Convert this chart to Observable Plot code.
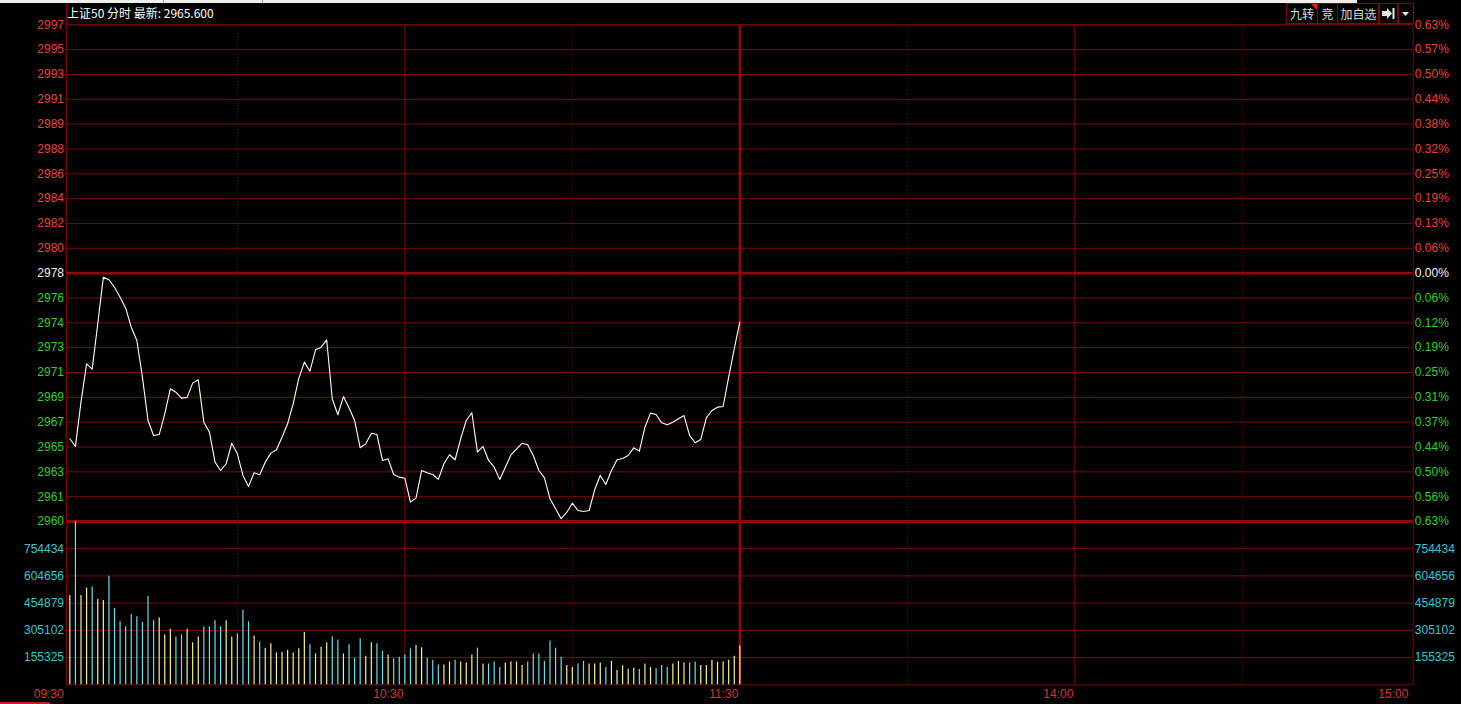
<!DOCTYPE html>
<html>
<head>
<meta charset="utf-8">
<script src="https://cdn.jsdelivr.net/npm/d3@7"></script>
<script src="https://cdn.jsdelivr.net/npm/@observablehq/plot@0.6"></script>
<style>
  html, body { margin: 0; padding: 0; background: #000; }
  #wrap { position: relative; width: 1461px; height: 704px; background: #000; overflow: hidden;
          font-family: 'Liberation Sans', Arial, 'Noto Sans CJK SC', sans-serif; }
  .abs { position: absolute; }
  .btn { position: absolute; top: 3px; height: 19px; border: 1px solid #7a0a0a; box-sizing: content-box;
         color: #dcdcdc; font-size: 12px; line-height: 19px; text-align: center;
         font-family: 'Noto Sans CJK SC', 'Liberation Sans', sans-serif; }
</style>
</head>
<body>
<div id="wrap">
  <div class="abs" style="left:0;top:0;width:1357px;height:3px;background:#efefef"></div>
  <div class="abs" style="left:163px;top:0;width:1px;height:3px;background:#999"></div>
  <div class="abs" style="left:262px;top:0;width:1px;height:3px;background:#999"></div>
  <div class="abs" id="title" style="left:67px;top:5px;color:#fff;font-size:12px;line-height:15px;white-space:nowrap;font-family:'Noto Sans CJK SC','Liberation Sans',sans-serif">上证50 分时 最新: 2965.600</div>
  <div class="abs" style="left:65.5px;top:3px;width:1px;height:22px;background:#800a0a"></div>
  <div class="btn" style="left:1286px;width:30px">九转</div>
  <div class="abs" style="left:1311px;top:4px;width:0;height:0;border-top:6px solid #ff1a1a;border-left:6px solid transparent"></div>
  <div class="btn" style="left:1317px;width:19px">竞</div>
  <div class="btn" style="left:1337px;width:41px">加自选</div>
  <div class="btn" style="left:1378px;width:19px">
    <svg width="19" height="19" style="display:block"><polygon points="3,7 8,7 8,4 13,9.5 8,15 8,12 3,12" fill="#e8e8e8"/><rect x="13.5" y="4" width="2" height="11" fill="#e8e8e8"/></svg>
  </div>
  <div class="btn" style="left:1397px;width:15px">
    <svg width="15" height="19" style="display:block"><polygon points="4,8 11,8 7.5,12" fill="#e8e8e8"/></svg>
  </div>
  <div class="abs" id="price" style="left:0;top:0"></div>
  <div class="abs" id="vol" style="left:0;top:521px"></div>
  <div class="abs" style="left:0;top:701.5px;width:50px;height:2.5px;background:#c02020"></div>
</div>
<script>
// ---------- data ----------
const prevClose = 2978.2;
const priceStep = 1.8698;

const priceLabels = ["2997","2995","2993","2991","2989","2988","2986","2984","2982","2980","2978",
                     "2976","2974","2973","2971","2969","2967","2965","2963","2961","2960"];
const pctLabels = ["0.63%","0.57%","0.50%","0.44%","0.38%","0.32%","0.25%","0.19%","0.13%","0.06%","0.00%",
                   "0.06%","0.12%","0.19%","0.25%","0.31%","0.37%","0.44%","0.50%","0.56%","0.63%"];

const volTickLabels = ["155325","305102","454879","604656","754434"];

const timeLabels = ["09:30","10:30","11:30","14:00","15:00"];
const timeMinutes = [0, 60, 120, 180, 240];
const solidMinutes = [60, 180];
const breakMinute = [120];
const dottedMinutes = [30, 90, 150, 210];

const prices = [
2965.73, 2965.15, 2968.51, 2971.37, 2970.97, 2974.39, 2977.90, 2977.70, 2977.14, 2976.39,
2975.56, 2974.13, 2973.13, 2970.37, 2967.11, 2965.98, 2966.05, 2967.61, 2969.49, 2969.24,
2968.79, 2968.85, 2969.92, 2970.17, 2966.98, 2966.23, 2963.97, 2963.34, 2963.85, 2965.40,
2964.60, 2962.97, 2962.14, 2963.17, 2963.02, 2963.97, 2964.65, 2964.90, 2965.85, 2966.86,
2968.36, 2970.27, 2971.50, 2970.82, 2972.43, 2972.63, 2973.18, 2968.74, 2967.54, 2968.91,
2968.06, 2967.11, 2965.05, 2965.35, 2966.15, 2966.05, 2964.10, 2964.22, 2963.04, 2962.84,
2962.76, 2960.96, 2961.26, 2963.34, 2963.17, 2963.04, 2962.67, 2963.85, 2964.53, 2964.15,
2965.73, 2967.11, 2967.69, 2964.72, 2965.15, 2964.10, 2963.59, 2962.67, 2963.59, 2964.51,
2964.96, 2965.40, 2965.28, 2964.47, 2963.34, 2962.79, 2961.21, 2960.46, 2959.71, 2960.20,
2960.88, 2960.33, 2960.26, 2960.33, 2961.89, 2962.97, 2962.29, 2963.34, 2964.15, 2964.25,
2964.47, 2965.05, 2964.80, 2966.60, 2967.66, 2967.56, 2966.93, 2966.78, 2966.98, 2967.24,
2967.48, 2965.98, 2965.43, 2965.68, 2967.31, 2967.86, 2968.11, 2968.16, 2970.37, 2972.51,
2974.51];

const volumes = [
497600, 904210, 497600, 538300, 543900, 475200, 469600, 603600, 426700, 352400,
324500, 391500, 380300, 348500, 492000, 358000, 373100, 279800, 311600, 268700,
279800, 311600, 236800, 268700, 324500, 324500, 358000, 324500, 358000, 268700,
287100, 413800, 352400, 274200, 240700, 207200, 231300, 181000, 184900, 196100,
181000, 203300, 292700, 225700, 175400, 212800, 236800, 270300, 251900, 175400,
225700, 151400, 259200, 162600, 236800, 231300, 190500, 169800, 147500, 157000,
169800, 203300, 222300, 208900, 151400, 140300, 114000, 114000, 130800, 140300,
130800, 125200, 169800, 207200, 119600, 119600, 130800, 101200, 125200, 130800,
130800, 112300, 130800, 175400, 175400, 134700, 246300, 207200, 157000, 112300,
101200, 119600, 134700, 119600, 119600, 125200, 101200, 134700, 84400, 110700,
91700, 97300, 91700, 119600, 101200, 95600, 112300, 101200, 119600, 134700,
125200, 125200, 130800, 112300, 112300, 140300, 130800, 130800, 140300, 162600,
218400];

const volDir = [
"u","d","u","u","d","u","u","d","d","d",
"d","d","d","d","d","d","u","u","u","d",
"d","u","u","u","d","d","d","d","u","u",
"d","d","d","u","d","u","u","u","u","u",
"u","u","u","d","u","u","u","d","d","u",
"d","d","d","u","u","d","d","u","d","d",
"d","d","u","u","d","d","d","u","u","d",
"u","u","u","d","u","d","d","d","u","u",
"u","u","d","d","d","d","d","d","d","u",
"u","d","d","u","u","u","d","u","u","u",
"u","u","d","u","u","d","d","d","u","u",
"u","d","d","u","u","u","u","u","u","u",
"u"];

// ---------- styling ----------
const GRID = "#7c0909";
const GRID_BRIGHT = "#8e0a0a";
const GRID_DIM = "#6a0a0a";
const RED = "#e8413f";
const GREEN = "#33cc33";
const WHITE = "#f2f2f2";
const CYAN_TXT = "#3dc3cf";
const BAR_UP = "#f2f29e";
const BAR_DOWN = "#72dde6";
const TIME_RED = "#d23a3a";
const FONT = "'Liberation Sans', Arial, sans-serif";

// ---------- derived tables ----------
const ks = d3.range(10, -11, -1);
const levels = ks.map((k, i) => ({
  k, value: prevClose + k * priceStep, label: priceLabels[i], pct: pctLabels[i],
  color: k > 0 ? RED : (k === 0 ? WHITE : GREEN)
}));
const lineData = prices.map((p, i) => ({minute: i, price: p}));
const volTicks = volTickLabels.map(Number);
const volStepV = volTicks[1] - volTicks[0];
const volMin = volTicks[0] - volStepV;
const volMax = volTicks[volTicks.length - 1] + volStepV;
const volData = volumes.map((v, i) => ({minute: i, vol: v, dir: volDir[i]}));
const timeData = timeLabels.map((t, i) => ({label: t, minute: timeMinutes[i]}));

const xScale = {domain: [0, 240], insetLeft: 3.35, insetRight: 3.35, axis: null};
const commonStyle = {background: "transparent", fontFamily: FONT, fontSize: "12px", overflow: "visible"};

// ---------- price panel ----------
const pricePlot = Plot.plot({
  width: 1461, height: 522,
  marginLeft: 66, marginRight: 48.3, marginTop: 24.3, marginBottom: 1,
  x: xScale,
  y: {domain: [prevClose - 10 * priceStep, prevClose + 10 * priceStep], axis: null},
  color: {type: "identity"},
  style: commonStyle,
  marks: [
    Plot.ruleX(dottedMinutes, {stroke: GRID_DIM, strokeDasharray: "1,2"}),
    Plot.ruleY(levels.filter(d => d.k !== 0 && d.k !== -10), {y: "value", stroke: GRID}),
    Plot.ruleX(solidMinutes, {stroke: GRID}),
    Plot.ruleX(breakMinute, {stroke: GRID_BRIGHT, strokeWidth: 2.5}),
    Plot.ruleY(levels.filter(d => d.k === 0 || d.k === -10), {y: "value", stroke: GRID_BRIGHT, strokeWidth: 2.8}),
    Plot.frame({stroke: GRID}),
    Plot.line(lineData, {x: "minute", y: "price", stroke: "#ffffff", strokeWidth: 1.1}),
    Plot.text(levels, {y: "value", text: "label", fill: "color", frameAnchor: "left", textAnchor: "end", dx: -2.5, fontSize: 12}),
    Plot.text(levels, {y: "value", text: "pct", fill: "color", frameAnchor: "right", textAnchor: "start", dx: 1.6, fontSize: 12})
  ]
});
document.getElementById("price").appendChild(pricePlot);

// ---------- volume panel ----------
const volPlot = Plot.plot({
  width: 1461, height: 183,
  marginLeft: 66, marginRight: 48.3, marginTop: 0, marginBottom: 19.7,
  x: xScale,
  y: {domain: [volMin, volMax], axis: null},
  color: {domain: ["u", "d"], range: [BAR_UP, BAR_DOWN]},
  style: commonStyle,
  marks: [
    Plot.ruleX(dottedMinutes, {stroke: GRID_DIM, strokeDasharray: "1,2"}),
    Plot.ruleY(volTicks, {stroke: GRID}),
    Plot.ruleX(solidMinutes, {stroke: GRID}),
    Plot.ruleX(breakMinute, {stroke: GRID_BRIGHT, strokeWidth: 2.5}),
    Plot.frame({stroke: GRID}),
    Plot.ruleX(volData, {x: "minute", y1: volMin, y2: "vol", stroke: "dir", strokeWidth: 1.2}),
    Plot.text(volTicks, {y: d => d, text: (d, i) => volTickLabels[i], fill: CYAN_TXT, frameAnchor: "left", textAnchor: "end", dx: -2.5, fontSize: 12}),
    Plot.text(volTicks, {y: d => d, text: (d, i) => volTickLabels[i], fill: CYAN_TXT, frameAnchor: "right", textAnchor: "start", dx: 1.6, fontSize: 12}),
    Plot.text(timeData.slice(0, 1), {x: "minute", text: "label", frameAnchor: "bottom", dy: 13, textAnchor: "end", dx: -6, fill: TIME_RED, fontSize: 12}),
    Plot.text(timeData.slice(1), {x: "minute", text: "label", frameAnchor: "bottom", dy: 13, textAnchor: "end", dx: -1.5, fill: TIME_RED, fontSize: 12})
  ]
});
document.getElementById("vol").appendChild(volPlot);
</script>
</body>
</html>
